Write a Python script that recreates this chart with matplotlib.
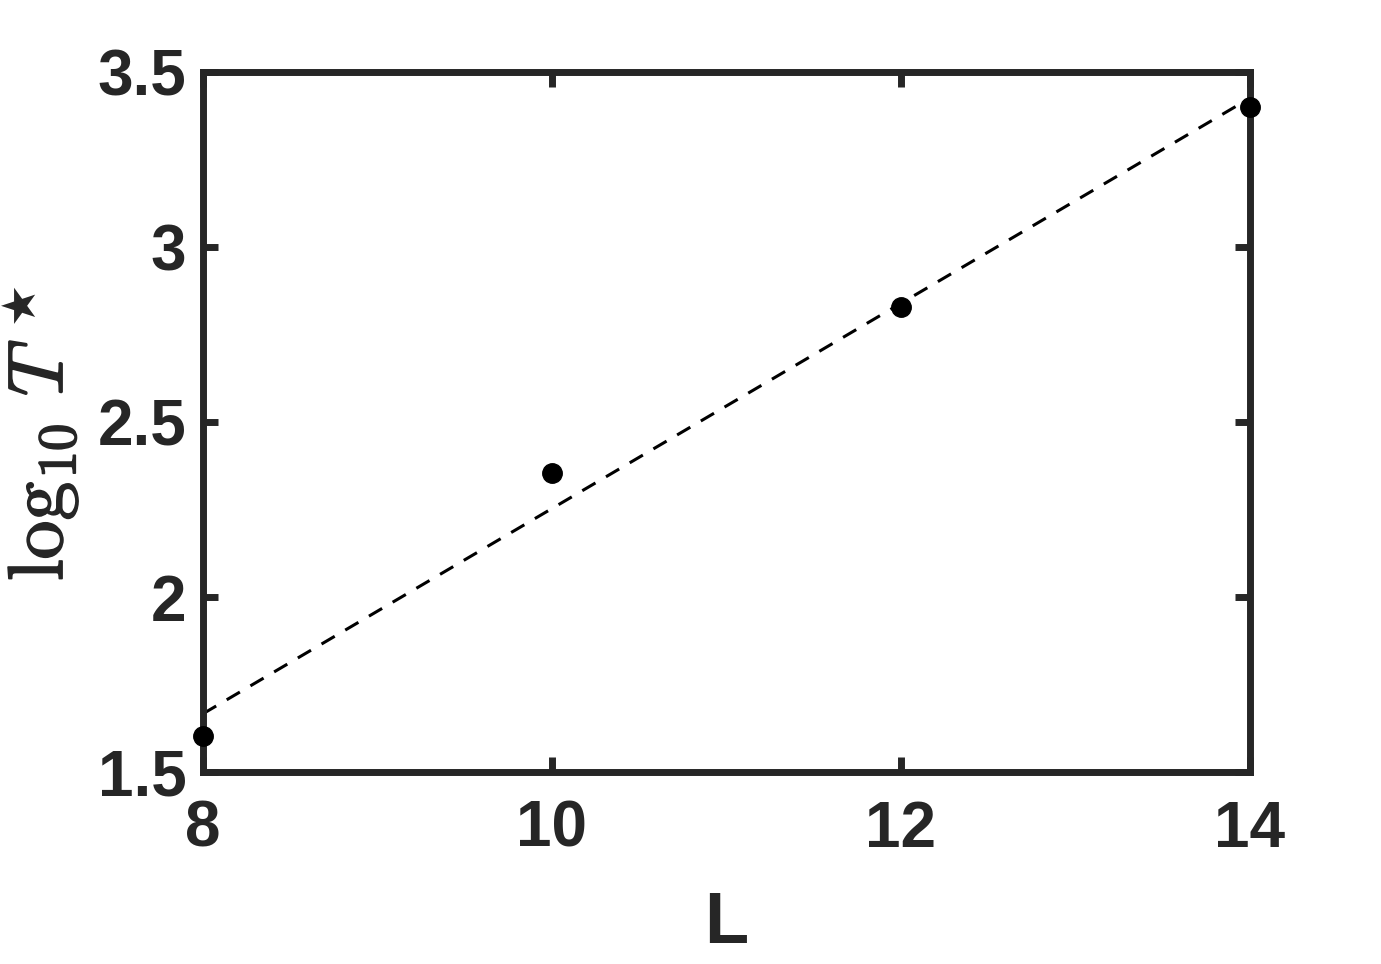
"""
log10 T* versus system size L, with a linear fit.
"""

import matplotlib
matplotlib.use('Agg')
import matplotlib.pyplot as plt
import matplotlib.patheffects as pe

# Data
L_vals = [8, 10, 12, 14]
log_T = [1.603, 2.354, 2.829, 3.400]

# dashed fit line endpoints
fit_L = [8, 14]
fit_logT = [1.667, 3.426]

x_ticks = [8, 10, 12, 14]
y_ticks = [1.5, 2, 2.5, 3, 3.5]
y_tick_labels = ['1.5', '2', '2.5', '3', '3.5']

AX_COLOR = '#262626'

plt.rcParams['font.family'] = ['Liberation Sans', 'DejaVu Sans']
plt.rcParams['font.weight'] = 'bold'
plt.rcParams['mathtext.fontset'] = 'cm'

fig = plt.figure(figsize=(13.81, 9.64), dpi=100)
ax = fig.add_axes([0.147, 0.199, 0.758, 0.726])

line, = ax.plot(fit_L, fit_logT, '--', color='black', linewidth=2.2)
line.set_dashes([5, 4])
ax.plot(L_vals, log_T, 'o', color='black', markersize=14, clip_on=False, zorder=5)

ax.set_xlim(8, 14)
ax.set_ylim(1.5, 3.5)
ax.set_xticks(x_ticks)
ax.set_yticks(y_ticks)
ax.set_yticklabels(y_tick_labels)

for sp in ax.spines.values():
    sp.set_linewidth(5)
    sp.set_color(AX_COLOR)

ax.tick_params(direction='in', length=11, width=5, colors=AX_COLOR,
               top=True, right=True, labelsize=46)
ax.tick_params(axis='x', pad=20)
ax.tick_params(axis='y', pad=12)
for lab in ax.get_xticklabels() + ax.get_yticklabels():
    lab.set_fontweight('bold')

ax.set_xlabel('L', fontsize=52, fontweight='bold', color=AX_COLOR, labelpad=22)

# y label: cm math text; the star superscript is drawn separately since the
# math fonts here lack the glyph
ylab = ax.set_ylabel(r'$\log_{10}\,T$', fontsize=56, color=AX_COLOR)
ylab.set_path_effects([pe.withStroke(linewidth=1.2, foreground=AX_COLOR)])
ax.yaxis.set_label_coords(-0.117, 0.446)
fig.text(21 / 1381, 662 / 964, '\u2605', family='DejaVu Sans', fontsize=34,
         rotation=90, ha='center', va='center', color=AX_COLOR)

fig.savefig('out.png', dpi=100)
plt.close(fig)
